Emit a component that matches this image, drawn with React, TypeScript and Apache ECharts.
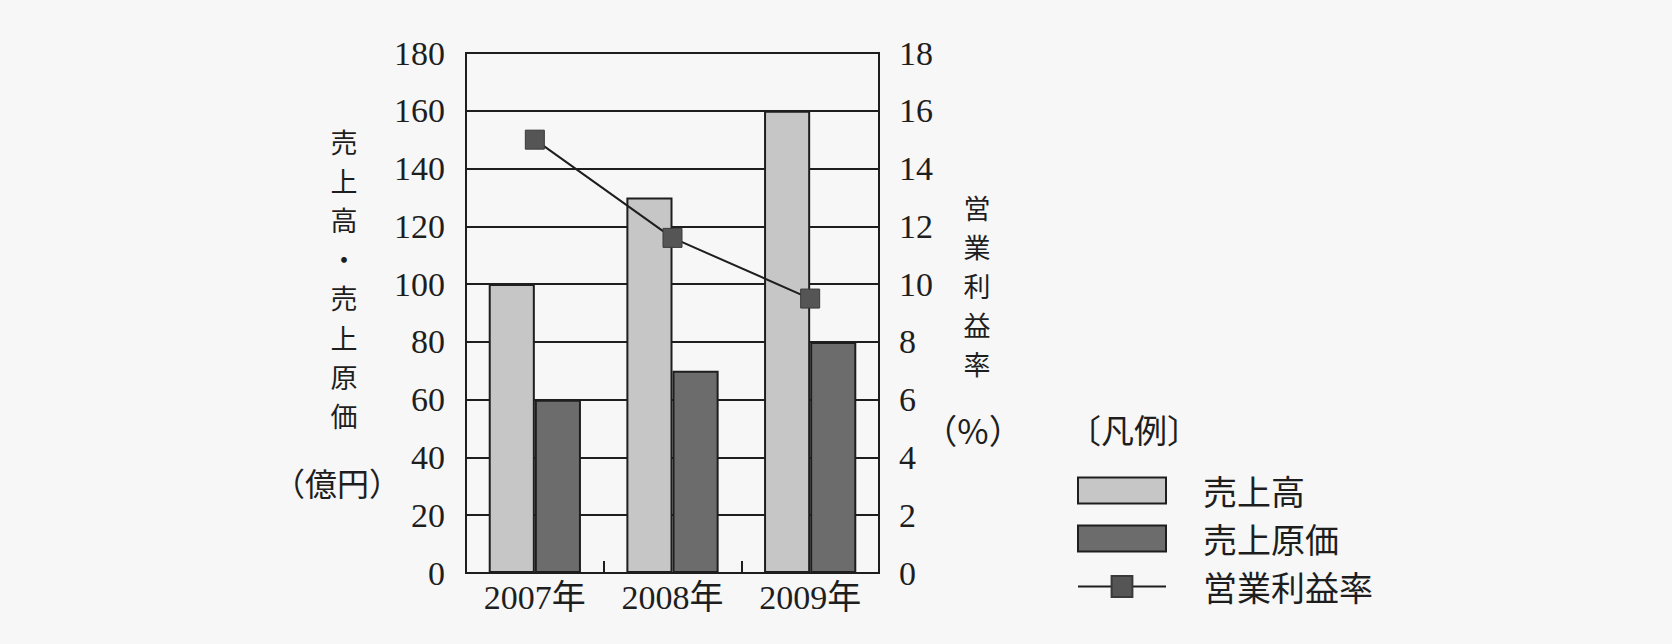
import React, { useEffect, useRef } from "react";
import * as echarts from "echarts";

// 年度別の売上高・売上原価（億円）と営業利益率（%）
const years = ["2007年", "2008年", "2009年"];
const sales = [100, 130, 160];
const costOfSales = [60, 70, 80];
const operatingMargin = [15, 11.6, 9.5];

const leftTicks = { min: 0, max: 180, interval: 20 };
const rightTicks = { min: 0, max: 18, interval: 2 };

const seriesNames = ["売上高", "売上原価", "営業利益率"];
const leftTitle = ["売", "上", "高", "・", "売", "上", "原", "価"];
const rightTitle = ["営", "業", "利", "益", "率"];

const SERIF = "'Liberation Serif', 'Noto Sans CJK JP', serif";
const CJK = "'Noto Sans CJK JP', 'Liberation Serif', sans-serif";
const INK = "#1e1e1e";

// Vertical (tategaki) title: one text element per character, stacked downward
function verticalText(chars: string[], cx: number, firstCy: number, step: number) {
  return chars.map((ch, i) => ({
    type: "text",
    x: cx,
    y: firstCy + i * step,
    style: {
      text: ch,
      font: `27px ${CJK}`,
      fill: INK,
      align: "center",
      verticalAlign: "middle",
    },
  }));
}

export default function App() {
  const ref = useRef<HTMLDivElement>(null);

  useEffect(() => {
    if (!ref.current) return;
    const chart = echarts.init(ref.current, null, { renderer: "svg" });

    chart.setOption({
      animation: false,
      backgroundColor: "#f7f7f7",
      grid: {
        left: 466,
        right: 793,
        top: 53,
        bottom: 71,
        show: true,
        borderColor: INK,
        borderWidth: 2,
        backgroundColor: "transparent",
      },
      title: {
        text: "〔凡例〕",
        left: 1068,
        top: 412,
        textStyle: { fontFamily: CJK, fontSize: 33, fontWeight: "normal", color: INK },
        padding: 0,
      },
      legend: {
        data: [
          { name: seriesNames[0], icon: "rect" },
          { name: seriesNames[1], icon: "rect" },
          { name: seriesNames[2] },
        ],
        orient: "vertical",
        left: 1077,
        top: 472,
        itemWidth: 88,
        itemHeight: 26,
        itemGap: 11,
        padding: 0,
        textStyle: {
          fontFamily: CJK,
          fontSize: 34,
          lineHeight: 37,
          color: INK,
          padding: [0, 0, 0, 32],
        },
      },
      xAxis: {
        type: "category",
        data: years,
        axisLine: { show: true, lineStyle: { color: INK, width: 2 } },
        axisTick: { show: true, inside: true, length: 12, lineStyle: { color: INK, width: 2 } },
        axisLabel: { fontFamily: SERIF, fontSize: 34, color: INK, margin: 7 },
        splitLine: { show: false },
      },
      yAxis: [
        {
          type: "value",
          ...leftTicks,
          position: "left",
          axisLine: { show: true, lineStyle: { color: INK, width: 2 } },
          axisTick: { show: false },
          axisLabel: { fontFamily: SERIF, fontSize: 34, color: INK, margin: 21 },
          splitLine: { show: true, lineStyle: { color: INK, width: 2 } },
        },
        {
          type: "value",
          ...rightTicks,
          position: "right",
          axisLine: { show: true, lineStyle: { color: INK, width: 2 } },
          axisTick: { show: false },
          axisLabel: { fontFamily: SERIF, fontSize: 34, color: INK, margin: 20 },
          splitLine: { show: false },
        },
      ],
      graphic: [
        ...verticalText(leftTitle, 344, 141, 39.2),
        {
          type: "text",
          x: 337,
          y: 482,
          style: {
            text: "（億円）",
            font: `32px ${CJK}`,
            fill: INK,
            align: "center",
            verticalAlign: "middle",
          },
        },
        ...verticalText(rightTitle, 977, 207, 39.2),
        {
          type: "text",
          x: 973,
          y: 429,
          style: {
            text: "（%）",
            font: `34px ${CJK}`,
            fill: INK,
            align: "center",
            verticalAlign: "middle",
          },
        },
      ],
      series: [
        {
          name: seriesNames[0],
          type: "bar",
          data: sales,
          yAxisIndex: 0,
          barGap: "0%",
          barCategoryGap: "33%",
          itemStyle: { color: "#c6c6c6", borderColor: INK, borderWidth: 2 },
          z: 2,
        },
        {
          name: seriesNames[1],
          type: "bar",
          data: costOfSales,
          yAxisIndex: 0,
          barGap: "0%",
          barCategoryGap: "33%",
          itemStyle: { color: "#6c6c6c", borderColor: INK, borderWidth: 2 },
          z: 2,
        },
        {
          name: seriesNames[2],
          type: "line",
          data: operatingMargin,
          yAxisIndex: 1,
          symbol: "rect",
          symbolSize: 19,
          lineStyle: { color: INK, width: 2 },
          itemStyle: { color: "#555555", borderColor: "#3a3a3a", borderWidth: 1 },
          z: 5,
        },
      ],
    });

    return () => chart.dispose();
  }, []);

  return (
    <div
      ref={ref}
      style={{ position: "fixed", left: 0, top: 0, width: 1672, height: 644 }}
    />
  );
}
